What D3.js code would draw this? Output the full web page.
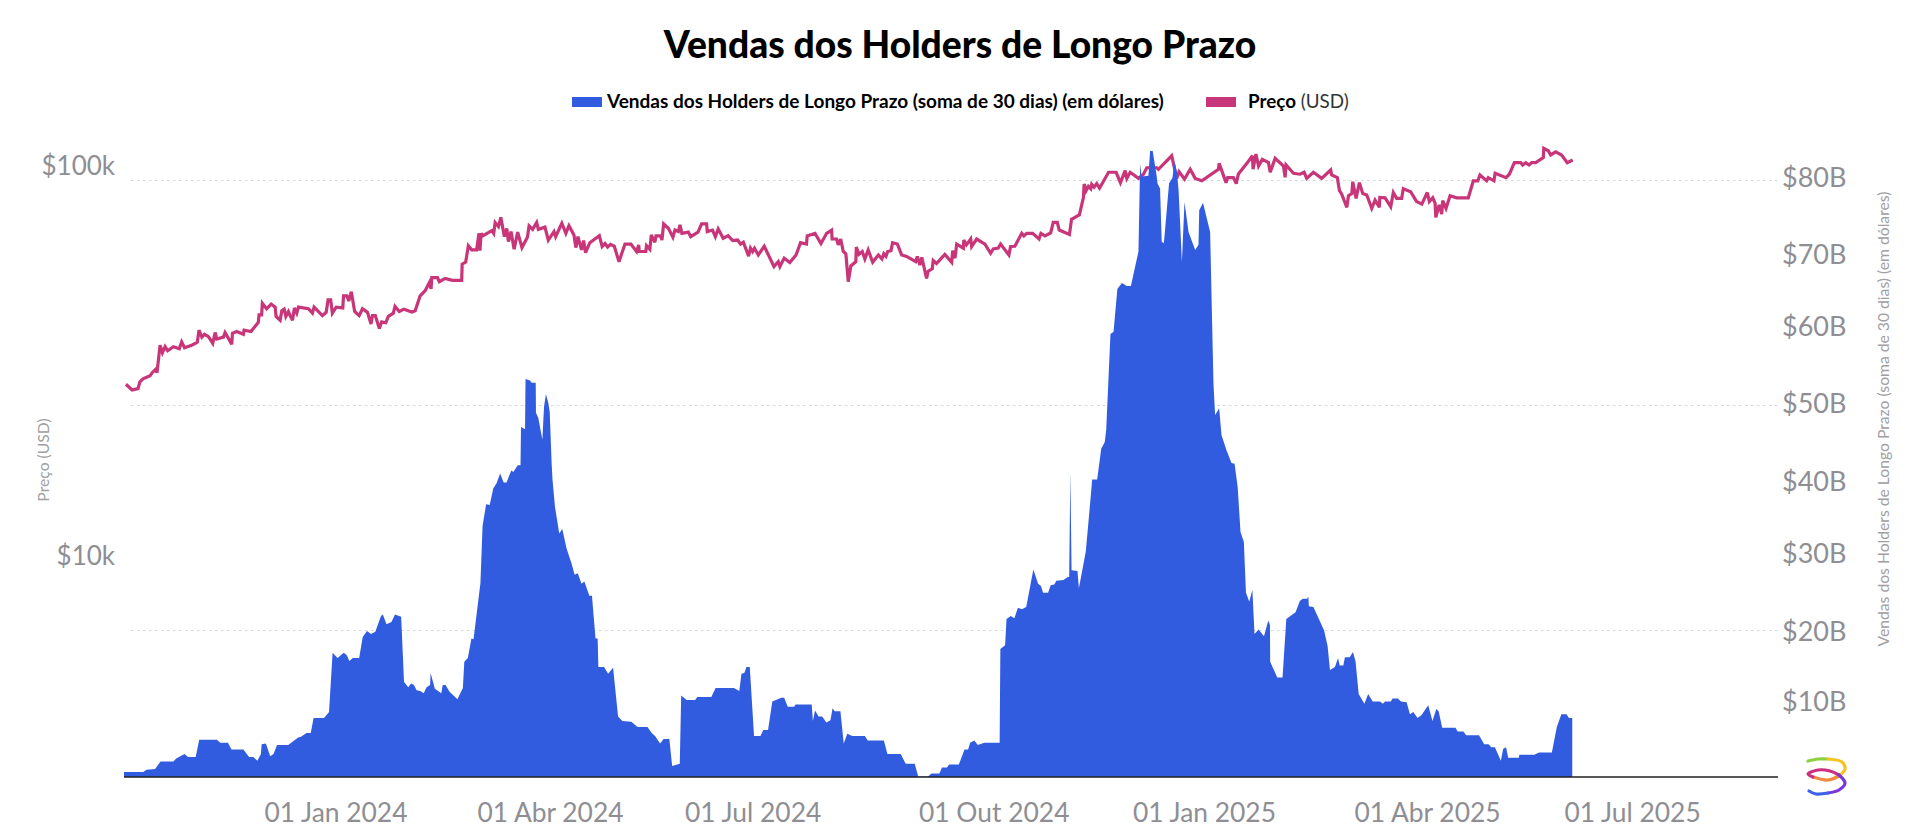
<!DOCTYPE html>
<html lang="pt">
<head>
<meta charset="utf-8">
<title>Vendas dos Holders de Longo Prazo</title>
<script src="https://cdn.jsdelivr.net/npm/d3@7/dist/d3.min.js"></script>
<style>
html,body{margin:0;padding:0;background:#fff;}
svg{display:block;}
text{font-family:Lato,"Open Sans",sans-serif;}
</style>
</head>
<body>
<svg id="chart" width="1920" height="838"></svg>
<script>
// ---- data: sample position on the chart's category axis (one unit is about one day) ----
const axisTickSamples = [89.1,179.5,264.9,366.5,455.1,549.1,635.5];
const axisTickLabels = ["01 Jan 2024","01 Abr 2024","01 Jul 2024","01 Out 2024","01 Jan 2025","01 Abr 2025","01 Jul 2025"];
const priceTicks = [10000,100000];
const priceTickLabels = ["$10k","$100k"];
const salesTicks = [10,20,30,40,50,60,70,80];
const gridTicks = [20,50,80];

// Long-term holder sales, 30-day sum, in billions of USD
const salesSamples = [0,8.1,9.5,13.1,15.4,20.8,22,25.5,27,30.2,31.7,39.1,40.6,43.8,45.3,50.3,52.7,54.5,56.2,57.7,58,59.8,61.6,63,64.5,69.2,73.4,74.6,76.9,78.7,79.9,84.3,86.4,87.9,90,92.6,93.8,95,96.4,99.1,100.6,102.4,104.1,105.9,108.3,109.1,110.6,112.7,114.2,116.8,118,119.8,121,122.2,123.3,124.8,126.3,127.5,129,129.2,131,133.7,134.3,135.5,137.2,140.5,142.8,143.4,144.9,146.4,147.3,150.2,151.1,152.6,154.1,155.6,157,158.5,160,161.2,163.2,164.1,165.9,167.1,167.3,169,169.2,171.1,171.8,173.5,173.6,174.6,175.3,176.3,177,177.8,178.8,179.4,180.2,180.6,181.6,183.4,184.7,186.5,188.6,189.9,191.2,192.8,194,196.1,197.2,198.7,199.6,199.9,202.3,204,206.1,208.2,210,213.8,216.4,220.6,222.4,223.8,225.9,227.4,229.8,231,234.2,234.8,237.1,240.7,241.6,247.5,249.3,257,259.3,260.2,261.4,262.3,263.7,265.5,268.2,269.4,271.4,273.2,277,278.2,279.7,282.4,283,289.8,290.3,291.2,292.7,294.2,296,297.7,298.6,299.5,301.9,303.3,304.8,306.9,312.2,313.4,320.2,321.7,327.3,329.4,333.2,334.7,338.8,340.3,343.6,344.7,346.8,347.7,351.8,354.2,355.7,356.6,358.3,359.8,362.5,369,369.3,371.3,371.9,373.7,375.2,376.7,378.4,380.2,383.2,385.2,386.4,387.3,389.4,390.5,392,392.9,395.9,397.7,398.3,398.8,399.3,401.8,402.4,405.3,406.5,408,410.1,411.8,413.3,413.9,414.9,415.7,417,418.6,420.5,422.6,424.3,427.5,428.2,428.8,431.7,432.4,433.5,435.2,435.5,436.6,437.3,438.2,440.4,441.8,442.7,443.7,444.4,445.8,446.9,448.6,451.4,452.8,453.1,454.7,457.7,459.1,459.8,461.5,462.5,464.6,466.7,468,469.3,470.5,471.9,472.8,474.2,475.5,476.4,478.1,480.4,482.2,482.9,483,486,488.2,489.8,493.7,495.5,496.7,498.6,499.1,499.3,501.2,505.7,507.2,508.2,510.3,511.6,512.3,513.8,514.5,516.5,517.9,519,520.3,522.7,524.3,526.2,529.3,530.5,531.4,533.8,534.6,536.8,538.1,540.5,541.9,543.3,545.1,546.8,549.6,551.4,553,554,555.5,561.1,562,564.4,565.6,571,573.2,575,576.2,577.7,580.2,581.2,582.4,583.3,587.8,588,594.3,596.3,601.7,603.8,605.7,607.9,608.9,610.3];
const salesValues = [1.2,1.2,1.5,1.6,2.6,2.6,3.0,3.6,3.2,3.2,5.5,5.5,5.1,5.1,4.2,4.2,3.2,3.2,2.7,3.6,4.9,5.0,3.3,3.6,4.8,4.8,5.8,5.9,6.4,6.4,8.4,8.4,9.2,17.1,16.4,17.1,16.8,16.0,16.4,16.4,19.2,20.0,19.6,19.9,22.0,22.2,20.9,21.2,22.2,21.9,13.2,12.5,13.0,12.8,12.1,12.0,11.7,12.5,12.8,14.4,12.3,11.7,12.8,12.8,11.9,10.9,12.4,15.9,16.4,19.0,18.9,26.4,34.0,36.9,36.8,39.0,39.7,41.0,39.8,39.8,41.4,41.2,42.1,42.1,47.2,46.9,53.6,53.4,53.1,53.1,49.1,48.4,47.2,45.5,49.9,51.6,50.4,49.2,42.4,40.1,36.6,33.0,33.6,31.0,29.0,27.5,27.7,26.3,26.6,24.7,24.7,19.0,19.0,15.2,15.2,14.3,15.1,8.6,8.0,7.9,7.2,7.2,6.4,6.0,5.0,5.6,5.6,2.0,2.3,11.4,10.8,10.8,11.2,11.2,12.4,12.4,12.0,14.3,14.4,15.2,15.2,6.0,6.0,6.8,6.8,10.6,11.1,11.1,9.9,9.9,10.2,10.2,8.0,9.4,8.6,8.6,7.8,8.1,9.7,9.3,9.3,5.0,6.3,6.0,6.0,5.4,5.4,3.6,3.6,2.3,2.3,0.6,0.6,1.0,1.0,1.8,1.8,2.2,2.2,4.2,4.2,5.1,5.4,4.8,5.1,5.1,17.6,18.1,21.6,22.0,21.7,23.1,22.9,23.2,28.2,26.3,26.0,25.1,25.1,26.1,26.2,26.7,26.8,27.2,27.2,41.2,28.1,28.0,25.7,30.6,34.8,40.2,40.2,44.3,45.2,46.8,53.9,59.6,59.9,65.6,66.4,66,66,70.6,82.3,80.6,80.7,84.0,84.0,80.6,79.7,79.0,71.9,71.7,79.7,80.4,82.6,81.2,78.8,69.2,77.2,73.2,70.8,71.5,76.1,77.1,73.2,53.0,48.8,49.7,46.1,44.1,42.4,42.3,39.2,33.2,31.9,25.1,23.9,25.5,19.6,20.2,19.3,21.4,20.8,15.9,13.8,13.8,21.6,22.5,24.0,24.3,24.3,24.6,23.3,23.2,20.1,18.0,14.8,15.2,16.4,15.4,15.4,16.5,16.5,17.2,15.9,11.6,10.3,11.6,10.6,10.6,10.3,10.6,10.6,11.0,11.0,10.6,10.5,8.9,9.2,8.4,8.8,10.1,8.0,9.6,9.3,7.1,7.1,6.6,6.6,6.1,6.1,4.9,4.9,4.5,4.5,2.7,4.3,4.5,3.1,3.1,3.5,3.5,3.8,3.8,7.2,8.9,8.9,8.4,8.4];

// Price in thousands of USD
const priceSamples = [0.8,3.4,5.9,6.7,8,11,11.8,13.5,13.9,15.2,16.2,17.3,18.4,20.8,23.3,24.3,25.5,28.5,30.9,31.6,32.8,33.9,35.6,37.4,38.4,39.1,41.9,42.6,45.4,45.7,47.5,50.3,50.6,53.5,56.6,56.9,58,58.3,60.1,62,63.7,64.1,65.8,66.5,67.5,68.2,69.3,70,71,71.8,72.8,73.5,77.7,79.4,80.1,83.6,85.2,86,87.1,87.8,89.4,92.2,92.5,93.9,94.7,95.8,97.2,99.1,100.5,102.6,104.1,104.7,105.9,107.6,108.6,110.3,111.4,113.5,114.2,116,118,121.3,122.7,124.8,126.9,128.7,129.4,129.7,132.1,132.9,135.3,138.4,142.3,142.5,144,145.1,146.5,148.6,149.6,150,150.5,151.2,155,155.8,156.4,157.8,158.8,160.3,161.3,162,163.1,164.4,165.9,167.7,170,170.7,172.2,173.9,174.6,177.4,178.8,181.2,181.9,184.5,186.2,187.5,189.6,190.4,191.3,192.8,193.7,194.5,196.3,200.3,201.5,202.7,203.8,205,206.6,208.6,211.1,213.6,216,216.9,217.1,219.9,220.2,221.6,222.2,223.7,224.2,226.1,226.7,227.4,229.4,231.3,232.2,233.6,234.3,235.1,237.8,238.8,241.9,243.4,245.5,245.8,248,249.2,250.4,252.5,254.6,256.5,258.6,259.8,261,263.2,264,264.9,265.7,267.3,269.8,273.9,275.7,276.4,278.2,280.6,283.2,285.1,287.6,287.9,291.2,293.7,296.1,298.2,298.4,300.3,301,302,303.1,304.2,305.2,306.3,308.4,308.6,309.7,311.1,312.2,313.6,315.5,317.9,319.4,320.2,321.1,321.8,323.2,323.9,325.9,327.7,329.8,333.6,334.3,335.4,336.2,338.2,338.9,340.6,341,342.4,345.9,348.8,349.2,350.2,350.9,353.7,353.9,355,356.8,357.2,359.3,362.8,365.2,366.3,368.4,369.4,372.9,373.6,375.4,378.3,379.2,380.4,382.9,385.6,386.4,388.1,390.5,391.6,393.3,394.1,398.4,399.3,402.6,404.3,404.6,405.4,406.4,407.4,407.8,408.8,409.9,411.1,414.9,418.1,419.9,421.9,422.6,424,427.5,429.6,431,435.2,435.9,441.5,443.6,444.6,446.9,449.3,451.4,454.2,461.2,461.5,464.4,465.1,467.5,468.7,469.6,473.2,475.5,475.8,477,478.1,479.7,482.3,483,485.1,488.6,489.3,489.7,492.8,495.6,497.3,498.4,501.2,504.7,508.5,508.9,511.3,512.2,513.1,515.3,516,517.4,517.8,519.2,520.6,522,523.7,525.8,527.2,529,529.2,531.4,533.8,534.9,536.3,538.4,539.1,542.2,544.7,546.9,549.2,550.1,551.5,552.5,552.8,554.2,555.3,555.7,557.1,558.8,561.6,566.5,568.6,570.5,571.4,574.2,574.9,577.3,577.8,582.4,583.8,585.9,588.6,589.4,590.7,592.1,593.2,594.9,598.1,598.3,600.2,601.2,603.3,605.8,608.2,610.5];
const priceValues = [27.4,26.5,26.7,27.8,28.3,28.8,29.3,30.0,29.3,34.5,33.0,34.2,33.4,34.2,33.8,35.2,34.0,34.5,35.1,37.7,36.2,36.8,36.3,34.9,37.2,35.8,36.2,37.2,34.7,37.0,37.4,36.8,37.7,37.4,39.5,41.3,41.3,44.2,42.8,44.0,43.2,40.9,40.0,42.3,42.7,40.9,42.1,41.1,40.0,43.0,41.7,43.2,42.8,41.7,43.2,41.1,41.9,45.1,45.1,41.7,43.2,43.0,46.2,46.2,44.8,47.3,42.1,41.1,42.8,41.9,39.1,41.1,41.1,38.1,39.6,39.4,40.9,41.7,43.4,42.1,42.7,42.0,42.3,46.2,47.6,50.0,48.1,51.4,51.4,50.2,51.2,50.6,50.6,55.7,56.4,62.1,60.6,60.6,66.8,60.3,66.8,65.8,67.9,66.8,71.2,69.5,73.4,65.5,68.8,63.6,67.5,60.8,67.3,61.4,65.3,69.8,68.4,71.2,68.4,69.3,64.2,67.5,65.5,70.9,66.8,69.9,66.2,61.4,65.5,60.6,64,59.6,63.2,65.9,61.8,62.9,61.6,62.6,61.9,56.5,62.7,62.7,60,62.4,60,60,62.1,60.8,66.2,63.4,65.8,65.8,64.2,70.6,68.8,65.3,68.1,67.5,70.2,66.8,67.3,65.5,67.3,70.6,70.6,67.5,68.1,65.5,68.6,64.9,65.9,64,64.2,62.7,63.4,58.4,61.2,60,61.2,58.8,61.9,54.9,56.5,54.9,57.7,56.2,58.8,63.2,62.7,65.8,66.8,62.9,66.8,68.1,64.6,64.6,62.4,64.6,60,59.2,50.2,55.1,56.5,61.6,59.0,60,57.4,60.6,56.3,58.8,57.4,59.2,58.3,60,60.3,63.2,62.7,58.8,58.3,56.5,58.3,55.4,58.0,51.2,53.4,54.2,56.9,55.9,59.0,56.3,60.3,57.7,62.7,61.2,64.2,62.4,64.6,61.8,64.6,62.7,59.4,60.9,61.2,62.7,58.8,61.8,61.9,66.8,65.8,66.8,66.8,64.6,66.8,65.8,67,71.3,71.3,68.1,66.4,72.6,74.5,82.5,89.4,85.9,88.1,86.9,89.2,87.7,89.6,87.2,95.8,95.8,90.1,96.7,92.4,95.8,92.4,94.7,98.4,98.4,97.5,105.6,92.4,96.1,92,97.5,92.4,91.1,97.5,101,90.1,92.8,92.8,89.6,94.8,101,105.6,97.5,106.7,99.4,103.4,101.4,95.8,104,99.4,93,100,95.2,94.7,95.8,92.4,95.8,92.4,97.1,94.3,92.8,85.9,84.3,77.9,83.4,84.5,90.6,82.1,90.1,84.5,83.8,77.4,81.3,77.9,82.6,82.4,78.2,85,82.1,82.1,86.9,85.4,80.6,79.4,85,80.6,82.4,79.8,73.4,79,74.8,81,77.4,83.4,82.4,82.4,91.1,91.1,94.3,91.1,92.8,91.1,95.2,92.8,94.7,101.4,101.4,100,101.4,100,101.4,101.4,104.4,110.3,108.8,106.1,108.1,106.1,101.4,103];

const salesName = "Vendas dos Holders de Longo Prazo (soma de 30 dias) (em dólares)";
const priceName = "Preço";
const priceUnit = "(USD)";

// Logo ribbon, in the logo's own units
const logoSegments = [
  {color:"#8ccf3f",pts:[[0,4],[10,2],[20,2]]},
  {color:"#f4c424",pts:[[20,2],[34,5],[37,12],[31,19]]},
  {color:"#f28a3c",pts:[[31,19],[20,23],[5,20]]},
  {color:"#cc2f80",pts:[[5,20],[0,17],[10,13],[22,14],[31,18]]},
  {color:"#7a35dc",pts:[[31,18],[37,26],[31,33],[20,36]]},
  {color:"#3d62ea",pts:[[20,36],[8,37],[1,34]]}
];

// ---- layout and styles ----
const inkGrey = "#8e8e93", titleGrey = "#a0a0a4", blue = "#325ce0", pink = "#c83578";
const svg = d3.select("#chart");

const x = d3.scaleLinear().domain([0,697]).range([124,1778]);
const yPrice = d3.scaleLog().domain([10,100]).range([555,165]);
const ySales = d3.scaleLinear().domain([0,80]).range([781,181]);
// the reference sets its right-hand labels at slightly uneven steps
const ySalesLabels = d3.scaleLinear().domain(salesTicks).range([702,632,554,482,404,327,255,178]);
const baselineY = 777;

// grid
svg.append("g").selectAll("line").data(gridTicks).join("line")
  .attr("x1",131).attr("x2",1778)
  .attr("y1",d=>ySales(d)-0.5).attr("y2",d=>ySales(d)-0.5)
  .attr("stroke","#d8d8d8").attr("stroke-width",1.2).attr("stroke-dasharray","2.5 3.5");

// price line sits under the area
const priceLine = d3.line().x((d,i)=>x(priceSamples[i])).y(d=>yPrice(d));
svg.append("path").attr("d",priceLine(priceValues))
  .attr("fill","none").attr("stroke",pink).attr("stroke-width",3.2).attr("stroke-linejoin","miter").attr("stroke-miterlimit",3);

const salesArea = d3.area().x((d,i)=>x(salesSamples[i])).y0(baselineY).y1(d=>ySales(d));
svg.append("path").attr("d",salesArea(salesValues)).attr("fill",blue);

// baseline
svg.append("line").attr("x1",124).attr("x2",1778).attr("y1",baselineY).attr("y2",baselineY)
  .attr("stroke","#222").attr("stroke-width",1.6);

// axes
function cleanAxis(g,size){
  g.select(".domain").remove();
  g.selectAll(".tick line").remove();
  g.selectAll("text").attr("fill",inkGrey).attr("font-size",size).style("font-family","Lato,'Open Sans',sans-serif");
}
svg.append("g").attr("transform","translate(0,801)")
  .call(d3.axisBottom(x).tickValues(axisTickSamples).tickFormat((d,i)=>axisTickLabels[i]).tickSize(0).tickPadding(0))
  .call(g=>cleanAxis(g,26.4))
  .selectAll("text").attr("dy","0.8em");
svg.append("g").attr("transform","translate(115,1)")
  .call(d3.axisLeft(yPrice).tickValues(priceTicks.map(d=>d/1000)).tickFormat((d,i)=>priceTickLabels[i]).tickSize(0).tickPadding(0))
  .call(g=>cleanAxis(g,26));
svg.append("g").attr("transform","translate(1782,0)")
  .call(d3.axisRight(ySalesLabels).tickValues(salesTicks).tickFormat(d=>`$${d}B`).tickSize(0).tickPadding(0))
  .call(g=>cleanAxis(g,27));

// axis titles
svg.append("text").attr("transform","translate(43,460) rotate(-90)").attr("text-anchor","middle")
  .attr("dy","0.35em").attr("font-size",15.7).attr("fill",titleGrey).text("Preço (USD)");
svg.append("text").attr("transform","translate(1883,419) rotate(-90)").attr("text-anchor","middle")
  .attr("dy","0.35em").attr("font-size",15.7).attr("fill",titleGrey).text(salesName);

// title
svg.append("text").attr("x",960).attr("y",58).attr("text-anchor","middle")
  .attr("font-size",37.2).attr("font-weight",900).attr("fill","#000").text("Vendas dos Holders de Longo Prazo");

// legend
svg.append("rect").attr("x",572).attr("y",97).attr("width",30).attr("height",10).attr("fill",blue);
svg.append("text").attr("x",607).attr("y",108).attr("font-size",19).attr("font-weight",700).attr("fill","#000").text(salesName);
svg.append("rect").attr("x",1206).attr("y",97).attr("width",30).attr("height",10).attr("fill",pink);
const lp = svg.append("text").attr("x",1248).attr("y",108).attr("font-size",18.8).attr("fill","#000");
lp.append("tspan").attr("font-weight",700).text(priceName);
lp.append("tspan").attr("fill","#333").text(" "+priceUnit);

// logo
const logoLine = d3.line().curve(d3.curveCatmullRom.alpha(0.5));
svg.append("g").attr("transform","translate(1808,757)").selectAll("path").data(logoSegments).join("path")
  .attr("d",d=>logoLine(d.pts)).attr("fill","none").attr("stroke",d=>d.color).attr("stroke-width",3.2).attr("stroke-linecap","round");
</script>
</body>
</html>
